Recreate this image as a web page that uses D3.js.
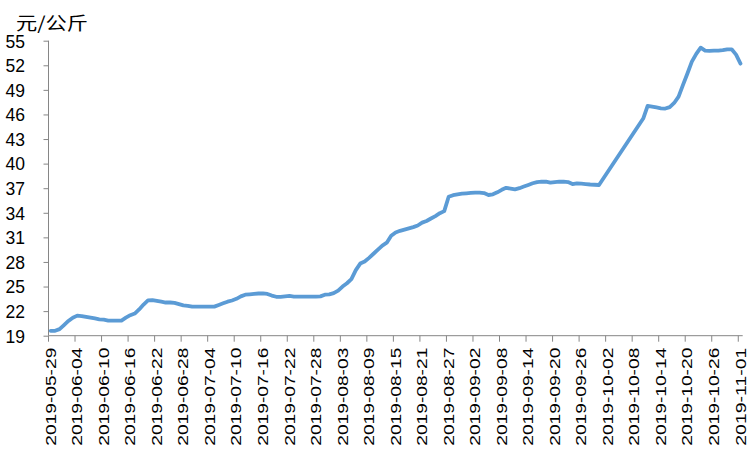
<!DOCTYPE html>
<html>
<head>
<meta charset="utf-8">
<script src="https://cdn.jsdelivr.net/npm/d3@7"></script>
<style>
  html, body { margin: 0; padding: 0; background: #fff; }
  svg { display: block; }
</style>
</head>
<body>
<svg id="chart" width="751" height="451"></svg>
<script>
// ---- data ----
const startDate = "2019-05-29";
const unitLabel = "元/公斤";
// daily prices (元/公斤), 2019-05-29 .. 2019-11-01; null = no quote (National Day holiday)
const prices = [
  19.6, 19.6, 19.8, 20.3, 20.8, 21.2, 21.45, 21.4, 21.3, 21.2,
  21.1, 21.0, 20.95, 20.85, 20.83, 20.83, 20.85, 21.2, 21.5, 21.7,
  22.2, 22.8, 23.3, 23.35, 23.25, 23.15, 23.05, 23.05, 23.0, 22.85,
  22.7, 22.65, 22.55, 22.55, 22.55, 22.55, 22.55, 22.55, 22.75, 22.95,
  23.15, 23.3, 23.5, 23.8, 24.0, 24.05, 24.1, 24.15, 24.17, 24.1,
  23.9, 23.75, 23.75, 23.8, 23.85, 23.78, 23.78, 23.78, 23.78, 23.78,
  23.78, 23.8, 24.0, 24.05, 24.2, 24.5, 25.0, 25.4, 25.9, 27.0,
  27.8, 28.05, 28.5, 29.0, 29.5, 30.0, 30.35, 31.2, 31.6, 31.8,
  31.95, 32.1, 32.25, 32.45, 32.8, 33.0, 33.3, 33.6, 33.95, 34.2,
  35.95, 36.15, 36.25, 36.33, 36.38, 36.42, 36.45, 36.45, 36.4, 36.17,
  36.25, 36.5, 36.8, 37.05, 36.95, 36.86, 37.0, 37.2, 37.4, 37.6,
  37.75, 37.79, 37.79, 37.67, 37.75, 37.79, 37.79, 37.75, 37.51, 37.6,
  37.55, 37.5, 37.45, 37.42, 37.39, null, null, null, null, null,
  null, null, null, null, 45.5, 47.05, 46.95, 46.85, 46.75, 46.72,
  46.9, 47.4, 48.17, 49.6, 51.0, 52.44, 53.4, 54.15, 53.8, 53.75,
  53.78, 53.8, 53.85, 53.95, 53.95, 53.3, 52.2
];
const yTicks = [19, 22, 25, 28, 31, 34, 37, 40, 43, 46, 49, 52, 55];
const xTickLabels = [
  "2019-05-29", "2019-06-04", "2019-06-10", "2019-06-16", "2019-06-22",
  "2019-06-28", "2019-07-04", "2019-07-10", "2019-07-16", "2019-07-22",
  "2019-07-28", "2019-08-03", "2019-08-09", "2019-08-15", "2019-08-21",
  "2019-08-27", "2019-09-02", "2019-09-08", "2019-09-14", "2019-09-20",
  "2019-09-26", "2019-10-02", "2019-10-08", "2019-10-14", "2019-10-20",
  "2019-10-26", "2019-11-01"
];

// ---- layout ----
const plotL = 48.5, plotR = 742.7, plotT = 40.7, plotB = 335.7;
const fmt = d3.timeFormat("%Y-%m-%d");
const parse = d3.timeParse("%Y-%m-%d");
const days = d3.timeDay.range(parse(startDate), d3.timeDay.offset(parse(startDate), prices.length)).map(fmt);
const data = days.map((d, i) => ({ date: d, v: prices[i] }));

const x = d3.scaleBand().domain(days).range([plotL, plotR]).paddingInner(0).paddingOuter(0);
const y = d3.scaleLinear().domain([19, 55]).range([plotB, plotT]);

const svg = d3.select("#chart");
const axisColor = "#868686";

// y axis
const yAxis = svg.append("g").attr("transform", `translate(${plotL},0)`)
  .call(d3.axisLeft(y).tickValues(yTicks).tickSize(5).tickPadding(6).tickFormat(d3.format("d")));
yAxis.select(".domain").attr("stroke", axisColor).attr("d", `M0,${plotT}V${plotB}`);
yAxis.selectAll(".tick line").attr("stroke", axisColor);
yAxis.selectAll(".tick text")
  .attr("x", -23.5).attr("text-anchor", "end").attr("dy", "0.36em")
  .attr("fill", "#000")
  .style("font-family", "'Liberation Sans', Arial, sans-serif")
  .style("font-size", "17.5px");

// x axis (ticks on category boundaries every 6 days, labels centred on categories)
const step = x.step();
const tickIdx = d3.range(0, prices.length, 6);
const gx = svg.append("g");
gx.append("line").attr("x1", plotL).attr("x2", plotR).attr("y1", plotB).attr("y2", plotB)
  .attr("stroke", axisColor);
gx.selectAll("line.tk").data(tickIdx).enter().append("line").attr("class", "tk")
  .attr("x1", i => x(days[i])).attr("x2", i => x(days[i]))
  .attr("y1", plotB).attr("y2", plotB + 6).attr("stroke", axisColor);
gx.selectAll("text").data(xTickLabels).enter().append("text")
  .attr("transform", d => `translate(${x(d) + step / 2},${plotB + 12}) rotate(-90)`)
  .attr("dy", "0.36em")
  .attr("text-anchor", "end")
  .attr("textLength", 98).attr("lengthAdjust", "spacingAndGlyphs")
  .style("font-family", "'Liberation Sans', Arial, sans-serif")
  .style("font-size", "14px")
  .attr("fill", "#000")
  .text(d => d);

// unit label
svg.append("text").attr("x", 16).attr("y", 29.5)
  .style("font-family", "'Noto Sans CJK SC', sans-serif")
  .style("font-size", "18px")
  .attr("textLength", 72).attr("lengthAdjust", "spacingAndGlyphs")
  .attr("fill", "#000")
  .text(unitLabel);

// line (gaps bridged like the original)
const line = d3.line().x(d => x(d.date) + step / 2).y(d => y(d.v));
svg.append("path")
  .datum(data.filter(d => d.v !== null))
  .attr("d", line)
  .attr("fill", "none")
  .attr("stroke", "#5B9BD5")
  .attr("stroke-width", 3.8)
  .attr("stroke-linejoin", "round")
  .attr("stroke-linecap", "round");
</script>
</body>
</html>
